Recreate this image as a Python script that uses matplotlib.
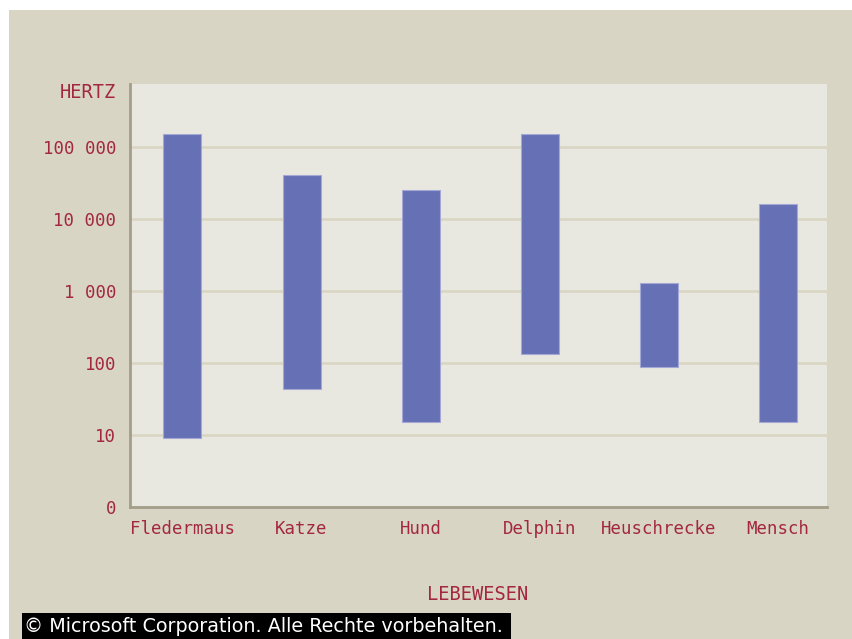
import matplotlib
matplotlib.use("Agg")
import matplotlib.pyplot as plt
from matplotlib.patches import Rectangle
import numpy as np

categories = ["Fledermaus", "Katze", "Hund", "Delphin", "Heuschrecke", "Mensch"]
low_hz = [9, 43, 15, 135, 87, 15]
high_hz = [150000, 41500, 25000, 150000, 1290, 16000]
ytick_values = [1, 10, 100, 1000, 10000, 100000]
ytick_labels = ["0", "10", "100", "1 000", "10 000", "100 000"]

W, H = 853, 639
fig = plt.figure(figsize=(W / 100, H / 100), dpi=100, facecolor="#D9D5C5")

# white strips at top and left
fig.patches.append(Rectangle((0, 1 - 10 / H), 1, 10 / H, transform=fig.transFigure,
                             facecolor="white", edgecolor="none", zorder=-5))
fig.patches.append(Rectangle((0, 0), 9 / W, 1, transform=fig.transFigure,
                             facecolor="white", edgecolor="none", zorder=-5))

left, right, top, bottom = 130, 827, 84, 507
ax = fig.add_axes([left / W, (H - bottom) / H, (right - left) / W, (bottom - top) / H])
ax.set_facecolor("#E9E8E0")

x = np.arange(len(categories))
heights = [h - l for h, l in zip(high_hz, low_hz)]
ax.bar(x, heights, bottom=low_hz, width=0.32, color="#6670B4",
       edgecolor="#A3A8D6", linewidth=0.8, zorder=3)

ax.set_yscale("log")
ax.set_ylim(1, 10 ** 5.875)
ax.set_xlim(-0.44, 5.41)

ax.set_yticks(ytick_values)
ax.set_yticklabels(ytick_labels)
ax.minorticks_off()
ax.set_xticks(x)
ax.set_xticklabels(categories)

txt_color = "#A3283F"
mono = "DejaVu Sans Mono"
fs = 13.5
ax.tick_params(axis="both", length=0, labelcolor=txt_color)
ax.tick_params(axis="y", pad=10, labelsize=12.5)
ax.tick_params(axis="x", pad=9, labelsize=12.5)
for lab in ax.get_xticklabels() + ax.get_yticklabels():
    lab.set_family(mono)

ax.grid(axis="y", color="#D9D5C2", linewidth=1.8, zorder=1)
ax.set_axisbelow(True)

for s in ["top", "right"]:
    ax.spines[s].set_visible(False)
ax.spines["left"].set_color("#A39E8A")
ax.spines["left"].set_linewidth(2)
ax.spines["bottom"].set_color("#A39E8A")
ax.spines["bottom"].set_linewidth(2)

fig.text(116 / W, 1 - 92 / H, "HERTZ", ha="right", va="center",
         color=txt_color, fontsize=fs, family=mono)
fig.text(478 / W, 1 - 594 / H, "LEBEWESEN", ha="center", va="center",
         color=txt_color, fontsize=fs, family=mono)

# copyright bar
fig.patches.append(Rectangle((22 / W, 0), (511 - 22) / W, 26 / H,
                             transform=fig.transFigure, facecolor="black",
                             edgecolor="none", zorder=5))
fig.text(24 / W, 1 - 627 / H, "© Microsoft Corporation. Alle Rechte vorbehalten.",
         ha="left", va="center", color="white", fontsize=13.8, zorder=6)

fig.savefig("out.png", dpi=100, facecolor=fig.get_facecolor())
